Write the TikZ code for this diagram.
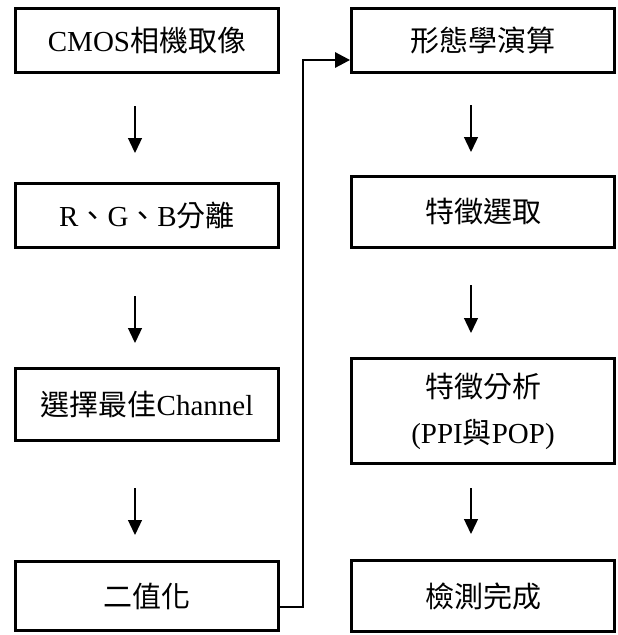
\documentclass[tikz,border=0pt]{standalone}
\usepackage{fontspec}
\setmainfont{Liberation Serif}
\newfontfamily\cjk{Noto Sans CJK TC}
\usetikzlibrary{arrows.meta}
\begin{document}
\begin{tikzpicture}[x=1pt,y=-1pt,
  box/.style={draw, line width=2.8pt, minimum width=263pt, inner sep=0pt,
    font=\fontsize{29}{46}\selectfont, align=center},
  arr/.style={line width=1.3pt, -{Triangle[length=15pt,width=14pt]}},
  conn/.style={line width=2.8pt, -{Triangle[length=15pt,width=15pt]}}]
\useasboundingbox (0,0) rectangle (618,635);
% left column
\node[box, minimum height=64pt] (b1) at (147,40.5) {CMOS{\cjk 相機取像}};
\node[box, minimum height=64pt] (b2) at (147,215.5) {R{\cjk 、}G{\cjk 、}B{\cjk 分離}};
\node[box, minimum height=72pt] (b3) at (147,404.5) {{\cjk 選擇最佳}Channel};
\node[box, minimum height=69pt] (b4) at (147,596) {{\cjk 二值化}};
% right column
\node[box, minimum height=64pt] (r1) at (483,40.5) {{\cjk 形態學演算}};
\node[box, minimum height=71pt] (r2) at (483,212) {{\cjk 特徵選取}};
\node[box, minimum height=105pt] (r3) at (483,411) {{\cjk 特徵分析}\\(PPI{\cjk 與}POP)};
\node[box, minimum height=71pt] (r4) at (483,596) {{\cjk 檢測完成}};
% arrow coordinates
\coordinate (a1s) at (135,106); \coordinate (a1e) at (135,153);
\coordinate (a2s) at (135,296); \coordinate (a2e) at (135,343);
\coordinate (a3s) at (135,488); \coordinate (a3e) at (135,535);
\coordinate (q1s) at (471,105); \coordinate (q1e) at (471,152);
\coordinate (q2s) at (471,285); \coordinate (q2e) at (471,333);
\coordinate (q3s) at (471,488); \coordinate (q3e) at (471,534);
\draw[arr] (a1s) -- (a1e);
\draw[arr] (a2s) -- (a2e);
\draw[arr] (a3s) -- (a3e);
\draw[arr] (q1s) -- (q1e);
\draw[arr] (q2s) -- (q2e);
\draw[arr] (q3s) -- (q3e);
% connector from left bottom to right top
\coordinate (c0) at (0,607);
\coordinate (k) at (303,60);
\draw[conn] (b4.east |- c0) -| (k) |- (r1.west |- k);
\end{tikzpicture}
\end{document}
